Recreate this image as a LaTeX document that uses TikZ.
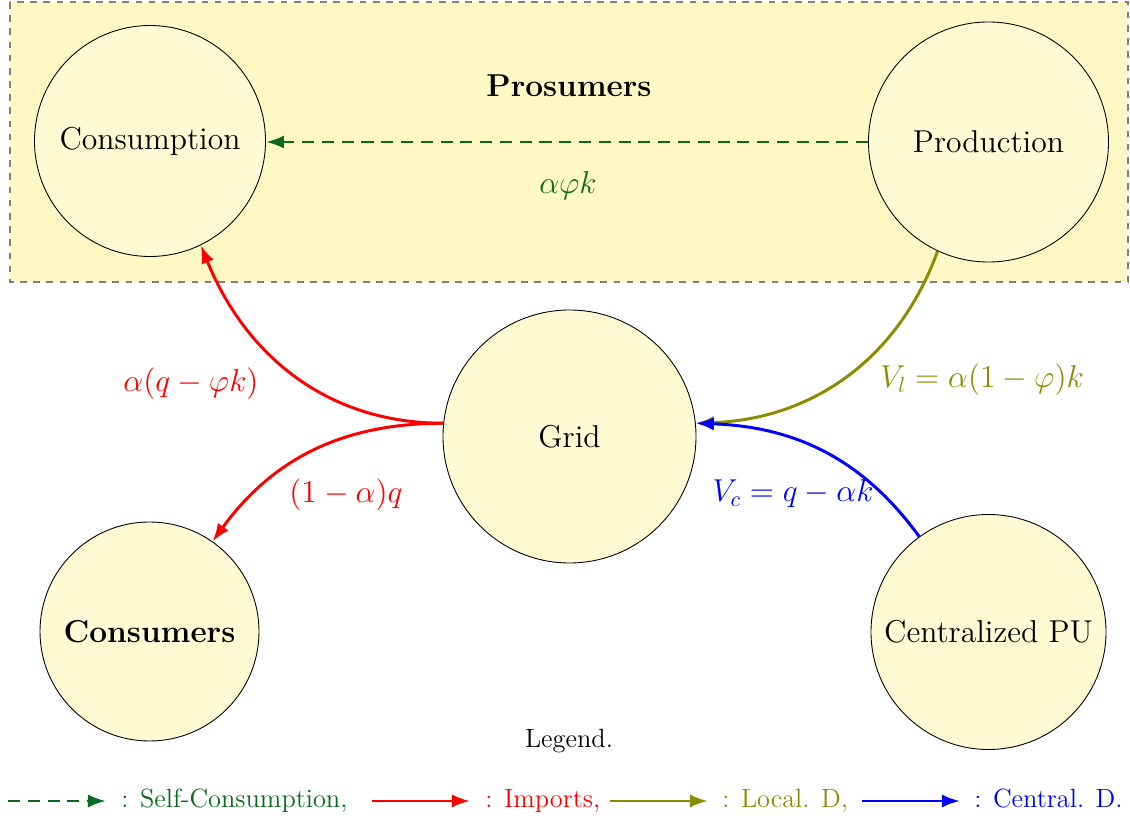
\documentclass[tikz,border=0pt]{standalone}
\usetikzlibrary{arrows.meta}
\definecolor{boxfill}{RGB}{255,248,196}
\definecolor{circfill}{RGB}{255,250,212}
\definecolor{sgreen}{RGB}{10,105,30}
\definecolor{lolive}{RGB}{140,140,0}
\definecolor{lred}{RGB}{255,0,0}
\definecolor{lblue}{RGB}{0,0,255}
\def\pxu{0.455}
\begin{document}
\begin{tikzpicture}[x=\pxu pt,y=\pxu pt,
  circ/.style={circle,draw=black,thin,fill=circfill,inner sep=0pt,font=\Large},
  flow/.style={-{Latex[length=8.2pt,width=6pt]},line width=1.35pt},
  selfc/.style={flow,sgreen,dash pattern=on 5.5pt off 3.5pt},
  lab/.style={font=\Large,inner sep=0pt},
  leg/.style={font=\large,anchor=base west,inner sep=0pt}]
\useasboundingbox (0,0) rectangle (1130,818);
% prosumers box
\draw[gray,dashed,line width=0.8pt,fill=boxfill] (10,816) rectangle (1128,536);
\node[font=\Large\bfseries,anchor=base,inner sep=0pt] (prosumers) at (569,721) {Prosumers};
% circles
\node[circ,minimum size=231*\pxu pt] (cons) at (150,677) {Consumption};
\node[circ,minimum size=240*\pxu pt] (prod) at (988.5,676) {Production};
\node[circ,minimum size=253*\pxu pt] (grid) at (569.5,381.5) {Grid};
\node[circ,minimum size=219*\pxu pt,font=\Large\bfseries] (consumers) at (149.5,186.5) {Consumers};
\node[circ,minimum size=235*\pxu pt] (cpu) at (988.5,186) {Centralized PU};
% flows
\draw[selfc] (prod.west) -- (cons.east |- prod.west);
\draw[flow,lred] (grid.174) to[out=180,in=-68] (cons.-64);
\draw[flow,lred] (grid.174) to[out=180,in=54] (consumers.55);
\draw[flow,lolive] (prod.-115) to[out=-110,in=2] (grid.6);
\draw[flow,lblue] (cpu.126) to[out=126,in=-2] (grid.6);
% labels
\node[lab,sgreen] (lself) at (568,632) {$\alpha\varphi k$};
\node[lab,lred] (limp1) at (191,434.5) {$\alpha(q-\varphi k)$};
\node[lab,lred] (limp2) at (346,323) {$(1-\alpha)q$};
\node[lab,lolive] (lloc) at (982,438) {$V_l=\alpha(1-\varphi)k$};
\node[lab,lblue] (lcen) at (793,324) {$V_c=q-\alpha k$};
% legend
\node[font=\large,anchor=base,inner sep=0pt] (legend) at (569,70) {Legend.};
\coordinate (g1) at (8,17);   \coordinate (g2) at (106,17);
\coordinate (r1) at (372,17); \coordinate (r2) at (470,17);
\coordinate (o1) at (610,17); \coordinate (o2) at (708,17);
\coordinate (b1) at (862,17); \coordinate (b2) at (960,17);
\draw[selfc] (g1) -- (g2);
\draw[flow,lred] (r1) -- (r2);
\draw[flow,lolive] (o1) -- (o2);
\draw[flow,lblue] (b1) -- (b2);
\node[leg,sgreen] (tg) at (121,10) {: Self-Consumption,};
\node[leg,lred] (tr) at (485,10) {: Imports,};
\node[leg,lolive] (to) at (722,10) {: Local. D,};
\node[leg,lblue] (tb) at (974,10) {: Central. D.};
\end{tikzpicture}
\end{document}
